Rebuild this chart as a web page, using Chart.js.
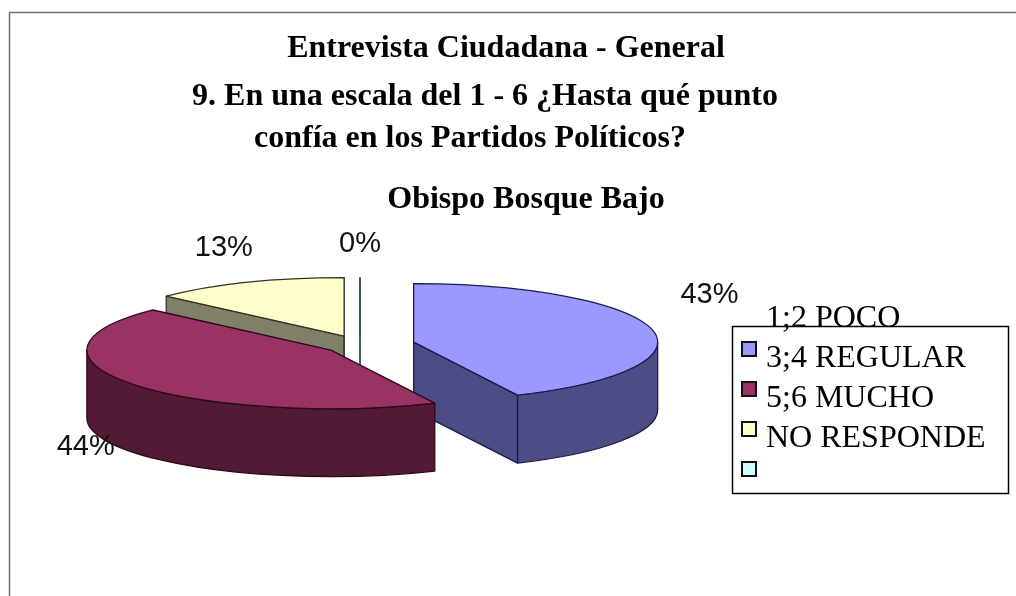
<!DOCTYPE html>
<html>
<head>
<meta charset="utf-8">
<script src="https://cdn.jsdelivr.net/npm/chart.js@4"></script>
<style>
  html, body { margin: 0; padding: 0; background: #fff; overflow: hidden; }
  canvas { display: block; }
</style>
</head>
<body>
<canvas id="pieChart" width="1016" height="596"></canvas>
<script>
// data
const titleLines = [
    "Entrevista Ciudadana - General",
    "9. En una escala del 1 - 6 ¿Hasta qué punto",
    "confía en los Partidos Políticos?",
    "Obispo Bosque Bajo"
];
const categories = ["3;4 REGULAR", "5;6 MUCHO", "NO RESPONDE", ""];
const percentages = [43, 44, 13, 0];
const legendHeader = "1;2 POCO"; // shown above the legend box, no swatch

const topColors = ["#9999FF", "#993366", "#FFFFCC", "#CCFFFF"];
const sideColors = ["#4D4D85", "#521A35", "#808066", "#668080"];
const edgeColors = ["#1A1A4D", "#2E0818", "#333326", "#335050"];
const sliceOffsets = [55, 36, 40, 36];

const TILT = 0.24;   // vertical squash of the pie
const DEPTH = 68;    // thickness of the pie in px

const geom = (arc) => {
    const mid = (arc.startAngle + arc.endAngle) / 2;
    const off = arc.options.offset || 0;
    return {
        ax: arc.x + Math.cos(mid) * off,
        ay: arc.y + Math.sin(mid) * off * TILT,
        R: arc.outerRadius,
        ry: arc.outerRadius * TILT,
        a1: arc.startAngle,
        a2: arc.endAngle,
        mid
    };
};

const drawSlice = (ctx, arc, i) => {
    const g = geom(arc);
    ctx.save();
    ctx.lineWidth = 1.3;
    ctx.lineJoin = "round";
    ctx.strokeStyle = edgeColors[i];

    // radial cut faces that look towards the viewer
    const face = (t) => {
        const x = g.ax + g.R * Math.cos(t);
        const y = g.ay + g.ry * Math.sin(t);
        ctx.beginPath();
        ctx.moveTo(g.ax, g.ay);
        ctx.lineTo(x, y);
        ctx.lineTo(x, y + DEPTH);
        ctx.lineTo(g.ax, g.ay + DEPTH);
        ctx.closePath();
        ctx.fillStyle = sideColors[i];
        ctx.fill();
        ctx.stroke();
    };
    if (Math.cos(g.a1) < 1e-6) face(g.a1);
    if (Math.cos(g.a2) > -1e-6) face(g.a2);

    // curved outer wall, front half only
    const s = Math.max(g.a1, 0), e = Math.min(g.a2, Math.PI);
    if (e > s) {
        ctx.beginPath();
        ctx.ellipse(g.ax, g.ay, g.R, g.ry, 0, s, e);
        ctx.ellipse(g.ax, g.ay + DEPTH, g.R, g.ry, 0, e, s, true);
        ctx.closePath();
        ctx.fillStyle = sideColors[i];
        ctx.fill();
        ctx.stroke();
    }

    // top face
    ctx.beginPath();
    ctx.moveTo(g.ax, g.ay);
    ctx.ellipse(g.ax, g.ay, g.R, g.ry, 0, g.a1, g.a2);
    ctx.closePath();
    ctx.fillStyle = topColors[i];
    ctx.fill();
    ctx.stroke();
    ctx.restore();
};

const framePlugin = {
    id: "frame",
    beforeDraw(chart) {
        const ctx = chart.ctx;
        ctx.save();
        ctx.fillStyle = "#fff";
        ctx.fillRect(0, 0, chart.width, chart.height);
        ctx.strokeStyle = "#707070";
        ctx.lineWidth = 1.5;
        ctx.beginPath();
        ctx.moveTo(9.5, chart.height);
        ctx.lineTo(9.5, 12.5);
        ctx.lineTo(chart.width, 12.5);
        ctx.stroke();
        ctx.restore();
    }
};

const pie3dPlugin = {
    id: "pie3d",
    beforeDatasetsDraw(chart) {
        const ctx = chart.ctx;
        const arcs = chart.getDatasetMeta(0).data;
        // back slices first
        const order = arcs.map((a, i) => i).sort((p, q) => {
            return Math.sin(geom(arcs[p]).mid) - Math.sin(geom(arcs[q]).mid);
        });
        order.forEach((i) => drawSlice(ctx, arcs[i], i));

        // percentage labels outside the slices
        const total = percentages.reduce((a, b) => a + b, 0);
        ctx.save();
        ctx.font = "29px 'Liberation Sans', Arial, sans-serif";
        ctx.fillStyle = "#111";
        ctx.textAlign = "center";
        ctx.textBaseline = "middle";
        arcs.forEach((arc, i) => {
            const g = geom(arc);
            const txt = Math.round(percentages[i] / total * 100) + "%";
            const c = Math.cos(g.mid), sn = Math.sin(g.mid);
            const w = ctx.measureText(txt).width, h = 22;
            const lx = g.ax + c * (g.R + 30) + c * w / 2;
            const ly = g.ay + sn * g.ry + (sn > 0 ? sn * (20 + DEPTH) + h / 2 : -34);
            ctx.fillText(txt, lx, ly);
        });
        ctx.restore();
        return false; // default flat arcs are not drawn
    }
};

const textPlugin = {
    id: "texts",
    afterDraw(chart) {
        const ctx = chart.ctx;
        ctx.save();
        ctx.fillStyle = "#000";
        ctx.textAlign = "center";
        ctx.textBaseline = "alphabetic";
        ctx.font = "bold 32px 'Liberation Serif', 'Times New Roman', serif";
        const spots = [[506, 57], [485, 105], [470, 147], [526, 208]];
        titleLines.forEach((t, i) => ctx.fillText(t, spots[i][0], spots[i][1]));

        // legend box
        const bx = 732, by = 326, bw = 276, bh = 167;
        ctx.strokeStyle = "#000";
        ctx.lineWidth = 1.5;
        ctx.strokeRect(bx + 0.5, by + 0.5, bw, bh);
        ctx.font = "32px 'Liberation Serif', 'Times New Roman', serif";
        ctx.textAlign = "left";
        ctx.fillText(legendHeader, 766, 327);
        categories.forEach((c, i) => {
            const base = 367 + i * 40;
            ctx.fillStyle = topColors[i];
            ctx.fillRect(742, base - 25, 14, 14);
            ctx.strokeStyle = "#111";
            ctx.lineWidth = 2;
            ctx.strokeRect(742, base - 25, 14, 14);
            ctx.fillStyle = "#000";
            ctx.fillText(c, 766, base);
        });
        ctx.restore();
    }
};

new Chart(document.getElementById("pieChart"), {
    type: "pie",
    data: {
        labels: categories,
        datasets: [{
            data: percentages,
            backgroundColor: topColors,
            offset: sliceOffsets,
            borderWidth: 0
        }]
    },
    options: {
        responsive: false,
        animation: false,
        events: [],
        radius: 244,
        layout: { padding: { left: 0, right: 296, top: 94, bottom: 0 } },
        plugins: {
            legend: { display: false },
            title: { display: false },
            tooltip: { enabled: false }
        }
    },
    plugins: [framePlugin, pie3dPlugin, textPlugin]
});
</script>
</body>
</html>
